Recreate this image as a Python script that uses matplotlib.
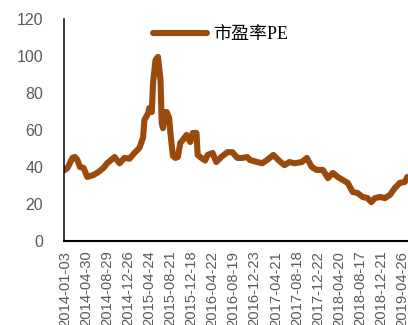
import matplotlib
matplotlib.use("Agg")
import matplotlib.pyplot as plt

# weekly index (weeks since 2014-01-03) and P/E readings
weeks = [0, 2, 6, 8, 10, 12, 15, 18, 23, 27, 31, 34, 40, 44, 48, 52, 56, 60,
         63, 64, 67, 68, 70, 71, 73, 75, 77, 78, 79, 81, 82, 84, 85, 87, 89,
         91, 93, 95, 98, 101, 103, 106, 107, 110, 113, 115, 119, 122, 126,
         131, 135, 139, 143, 147, 149, 155, 159, 163, 168, 172, 177, 181, 185,
         191, 195, 199, 203, 208, 212, 216, 220, 224, 228, 232, 236, 240, 244,
         247, 250, 254, 258, 262, 266, 270, 274, 276]
pe = [38.4, 39.5, 44.9, 45.4, 43.8, 40.0, 39.5, 34.6, 35.7, 37.3, 39.5, 42.0,
      45.4, 42.0, 44.9, 44.5, 47.6, 50.3, 56.0, 65.4, 69.0, 71.9, 69.7, 85.4,
      97.8, 99.5, 87.0, 63.8, 61.0, 69.7, 69.7, 66.5, 58.4, 46.0, 44.9, 45.4,
      53.0, 54.6, 57.3, 53.5, 58.4, 58.4, 46.5, 44.9, 43.5, 46.5, 47.6, 42.7,
      45.4, 48.0, 48.0, 44.9, 44.9, 45.4, 43.8, 42.7, 42.0, 43.8, 46.5, 43.8,
      41.0, 42.7, 42.0, 42.7, 44.9, 40.0, 38.4, 38.4, 34.0, 36.8, 34.6, 33.0,
      31.4, 26.5, 25.9, 23.8, 23.2, 21.0, 23.2, 23.8, 23.2, 24.9, 28.6, 31.4,
      31.9, 34.6]

tick_labels = ["2014-01-03", "2014-04-30", "2014-08-29", "2014-12-26",
               "2015-04-24", "2015-08-21", "2015-12-18", "2016-04-22",
               "2016-08-19", "2016-12-23", "2017-04-21", "2017-08-18",
               "2017-12-22", "2018-04-20", "2018-08-17", "2018-12-21",
               "2019-04-26"]
tick_step = 17

fig = plt.figure(figsize=(4.08, 3.25), dpi=100)
ax = fig.add_axes([64 / 408, 1 - 241 / 325, 344 / 408, 222 / 325])

ax.plot(weeks, pe, color="#9A4A0C", lw=4.4, solid_joinstyle="round",
        solid_capstyle="round", label="市盈率PE")

ax.set_ylim(0, 120)
ax.set_yticks(range(0, 121, 20))
ax.set_xlim(-0.8, 276.6)
ax.set_xticks([i * tick_step for i in range(len(tick_labels))])
ax.set_xticklabels(tick_labels, rotation=90)

for side in ("top", "right"):
    ax.spines[side].set_visible(False)
ax.spines["left"].set_linewidth(1.1)
ax.spines["bottom"].set_linewidth(1.5)
ax.tick_params(length=0, colors="#595959")
ax.tick_params(axis="y", pad=15, labelsize=11.5)
ax.tick_params(axis="x", pad=7, labelsize=10.6)
for lab in ax.get_xticklabels() + ax.get_yticklabels():
    lab.set_family("Liberation Sans")

leg = ax.legend(loc="center", bbox_to_anchor=(0.455, 0.928), frameon=False,
                handlelength=3.0, handletextpad=0.3,
                prop={"family": ["Liberation Serif", "Noto Sans CJK SC"],
                      "size": 13})

fig.savefig("out.png", dpi=100)
